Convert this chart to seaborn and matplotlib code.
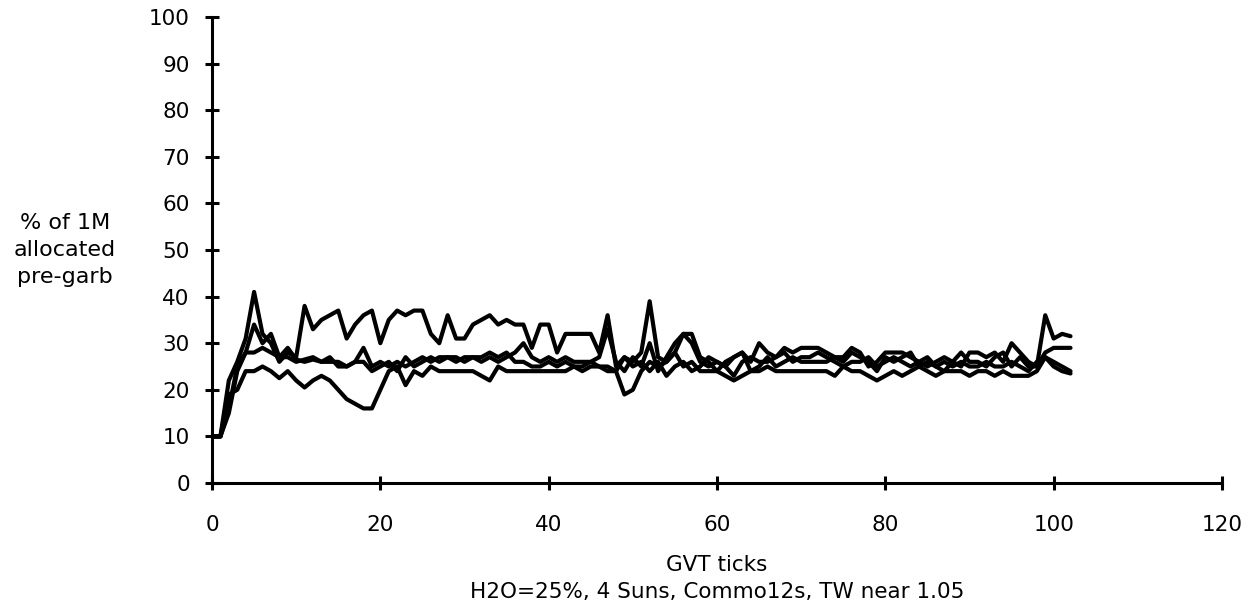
import numpy as np
import pandas as pd
import matplotlib
matplotlib.use("Agg")
import matplotlib.pyplot as plt
import seaborn as sns

# ---- data ----
ticks = list(range(0, 103))

series_a = [10, 10, 22, 26, 31, 41, 32, 30, 26, 28,
            27, 38, 33, 35, 36, 37, 31, 34, 36, 37,
            30, 35, 37, 36, 37, 37, 32, 30, 36, 31,
            31, 34, 35, 36, 34, 35, 34, 34, 29, 34,
            34, 28, 32, 32, 32, 32, 28, 36, 25, 27,
            26, 28, 39, 27, 26, 28, 32, 30, 26, 25,
            26, 25, 27, 28, 26, 30, 28, 27, 29, 28,
            29, 29, 29, 28, 27, 27, 29, 28, 25, 26,
            28, 28, 28, 27, 26, 25, 26, 27, 26, 25,
            28, 28, 27, 28, 26, 30, 28, 26, 25, 36,
            31, 32, 31.5]

series_b = [10, 10, 19, 20, 24, 24, 25, 24, 22.5, 24,
            22, 20.5, 22, 23, 22, 20, 18, 17, 16, 16,
            20, 24, 25, 21, 24, 23, 25, 24, 24, 24,
            24, 24, 23, 22, 25, 24, 24, 24, 24, 24,
            24, 24, 24, 25, 24, 25, 25, 24, 24, 19,
            20, 24, 26, 25, 26, 28, 25, 26, 24, 24,
            24, 23, 22, 23, 24, 24, 25, 24, 24, 24,
            24, 24, 24, 24, 23, 25, 24, 24, 23, 22,
            23, 24, 23, 24, 25, 24, 23, 24, 24, 24,
            23, 24, 24, 23, 24, 23, 23, 23, 24, 27,
            25, 24, 23.5]

series_c = [10, 10, 16, 25, 28, 34, 30, 32, 27, 29,
            26.5, 26, 26.5, 26, 26, 26, 25, 26, 29, 25,
            26, 25, 26, 25, 26, 27, 26, 27, 27, 26,
            27, 27, 26, 27, 26, 27, 28, 30, 27, 26,
            27, 26, 27, 26, 26, 26, 27, 33, 26, 24,
            27, 25, 30, 24, 27, 30, 32, 32, 27, 26,
            24, 26, 27, 28, 24, 25, 27, 25, 26, 27,
            26, 26, 26, 26, 27, 26, 28, 27, 26, 24,
            27, 26, 27, 28, 25, 26, 25, 24, 26, 28,
            26, 26, 25, 27, 28, 25, 27, 25, 25, 28,
            29, 29, 29]

series_d = [10, 10, 15, 24, 28, 28, 29, 28, 27, 27,
            26, 26.5, 27, 26, 27, 25, 25, 26, 26, 24,
            25, 26, 24, 27, 25, 26, 27, 26, 27, 27,
            26, 27, 27, 28, 27, 28, 26, 26, 25, 25,
            26, 25, 26, 25, 25, 26, 25, 25, 24, 27,
            25, 26, 24, 26, 23, 25, 26, 24, 25, 27,
            26, 25, 23, 26, 27, 26, 26, 27, 28, 26,
            27, 27, 28, 27, 26, 25, 26, 26, 27, 25,
            26, 27, 26, 25, 26, 27, 25, 26, 25, 26,
            25, 25, 26, 25, 25, 26, 25, 24, 26, 27,
            26, 25, 24]

x_ticks = [0, 20, 40, 60, 80, 100, 120]
y_ticks = [0, 10, 20, 30, 40, 50, 60, 70, 80, 90, 100]

ylabel_text = "% of 1M\nallocated\npre-garb"
xlabel_text = "GVT ticks"
subtitle_text = "H2O=25%, 4 Suns, Commo12s, TW near 1.05"

# ---- plotting ----
sns.set_style("ticks")
plt.rcParams["font.family"] = ["DejaVu Sans"]
plt.rcParams["text.color"] = "black"
plt.rcParams["axes.labelcolor"] = "black"

fig = plt.figure(figsize=(12.58, 6.09), dpi=100)
ax = fig.add_axes([212 / 1258, 1 - 483 / 609, (1222 - 212) / 1258, (483 - 17) / 609])

df = pd.DataFrame({
    "tick": ticks * 4,
    "value": series_a + series_b + series_c + series_d,
    "run": ["a"] * len(series_a) + ["b"] * len(series_b)
           + ["c"] * len(series_c) + ["d"] * len(series_d),
})
sns.lineplot(data=df, x="tick", y="value", units="run", estimator=None,
             color="black", linewidth=3.0, ax=ax, legend=False)

ax.set_xlim(0, 120)
ax.set_ylim(0, 100)
ax.set_xticks(x_ticks)
ax.set_yticks(y_ticks)
ax.set_xticklabels([str(t) for t in x_ticks])
ax.set_yticklabels([str(t) for t in y_ticks])
for s in ["top", "right"]:
    ax.spines[s].set_visible(False)
for s in ["left", "bottom"]:
    ax.spines[s].set_linewidth(2.2)
    ax.spines[s].set_color("black")
ax.tick_params(axis="both", direction="inout", length=10, width=2.2,
               colors="black", labelsize=15.5)
ax.tick_params(axis="y", pad=11)
ax.tick_params(axis="x", pad=18)
ax.set_xlabel("")
ax.set_ylabel("")

ax.text(-0.1455, 0.5, ylabel_text, transform=ax.transAxes, ha="center",
        va="center", multialignment="center", fontsize=16,
        linespacing=1.45, color="black")
ax.text(0.5, (483 - 565) / 466, xlabel_text, transform=ax.transAxes,
        ha="center", va="center", fontsize=15.5, color="black")
ax.text(0.5, (483 - 592) / 466, subtitle_text, transform=ax.transAxes,
        ha="center", va="center", fontsize=15.5, color="black")

fig.savefig("out.png", dpi=100, facecolor="white")
